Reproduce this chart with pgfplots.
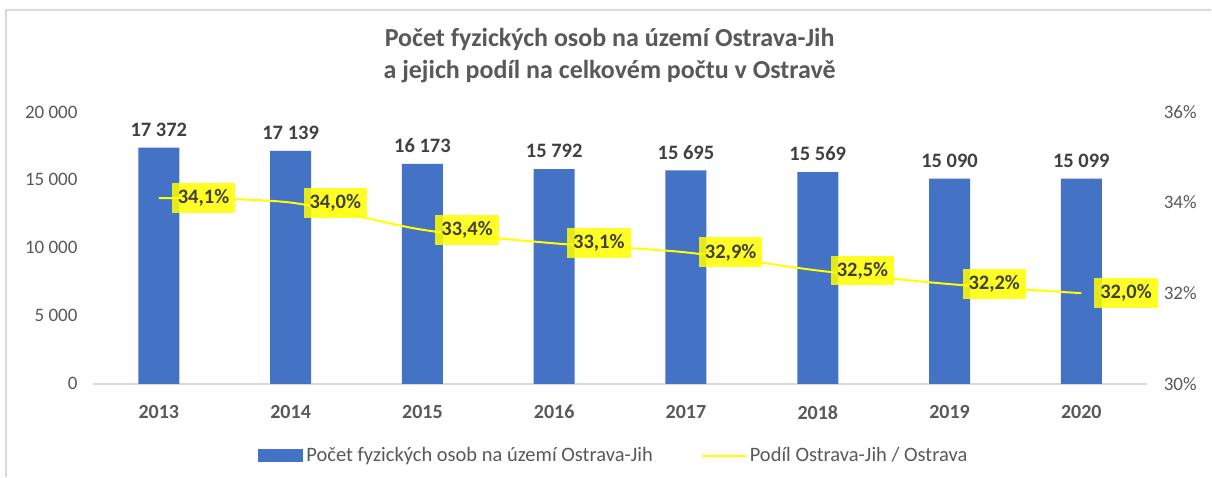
\documentclass[border=0pt]{standalone}
\usepackage{pgfplots}
\pgfplotsset{compat=1.18}
\usepackage{fontspec}
\setmainfont{Carlito}
\definecolor{barblue}{HTML}{4472C4}
\definecolor{txtgray}{HTML}{595959}
\definecolor{lblgray}{HTML}{404040}
\definecolor{axgray}{HTML}{D9D9D9}
\definecolor{lineyel}{HTML}{FFFF00}
\begin{document}
\begin{tikzpicture}[x=1pt,y=1pt]
\fill[white] (0,0) rectangle (1212,477);
\draw[axgray, line width=1.5pt] (6,0) -- (6,467) -- (1212,467);
\node[font=\fontsize{26}{32}\selectfont\bfseries, text=txtgray, align=center] at (610,421)
  {Počet fyzických osob na území Ostrava-Jih\\a jejich podíl na celkovém počtu v Ostravě};

\begin{axis}[
  at={(93pt,93pt)}, anchor=south west, scale only axis,
  width=1055pt, height=272pt,
  xmin=-0.5, xmax=7.5, ymin=0, ymax=20000,
  axis x line*=bottom, axis y line*=left,
  x axis line style={axgray, line width=1.5pt, -},
  y axis line style={draw=none},
  major tick length=0, tick style={draw=none},
  scaled y ticks=false,
  xtick={0,...,7},
  xticklabels={2013,2014,2015,2016,2017,2018,2019,2020},
  xticklabel style={font=\fontsize{20}{24}\selectfont\bfseries, text=txtgray, yshift=-18pt},
  ytick={0,5000,10000,15000,20000},
  yticklabel={\pgfmathprintnumber[1000 sep={\ },assume math mode=true]{\tick}},
  yticklabel style={font=\fontsize{19}{23}\selectfont, text=txtgray, xshift=-12pt},
  clip=false,
]
\addplot[ybar, bar width=41pt, fill=barblue, draw=none,
  nodes near coords={\pgfmathprintnumber[fixed,precision=0,1000 sep={\ },assume math mode=true]{\pgfplotspointmeta}},
  every node near coord/.append style={font=\fontsize{20.5}{24}\selectfont\bfseries, text=lblgray, yshift=7.5pt}]
  coordinates {(0,17372) (1,17139) (2,16173) (3,15792) (4,15695) (5,15569) (6,15090) (7,15099)};
\end{axis}

\begin{axis}[
  at={(93pt,93pt)}, anchor=south west, scale only axis,
  width=1055pt, height=272pt,
  xmin=-0.5, xmax=7.5, ymin=30, ymax=36,
  axis y line*=right, axis x line=none,
  y axis line style={draw=none},
  major tick length=0, tick style={draw=none},
  ytick={30,32,34,36},
  yticklabel={\pgfmathprintnumber[assume math mode=true]{\tick}\%},
  yticklabel style={font=\fontsize{19}{23}\selectfont, text=txtgray, xshift=13pt},
  clip=false,
  legend columns=2,
  legend style={at={(0.494,-0.264)}, anchor=center, draw=none, fill=none,
    font=\fontsize{20.5}{24}\selectfont, text=txtgray,
    /tikz/every even column/.append style={column sep=46pt},
    /tikz/every odd column/.append style={column sep=0pt}},
]
\addlegendimage{legend image code/.code={\fill[barblue] (0pt,-6pt) rectangle (44pt,6pt); \path[draw=none,fill=none] (0pt,0pt) rectangle (46pt,0pt);}}
\addlegendentry{Počet fyzických osob na území Ostrava-Jih}
\addplot[lineyel, line width=2pt, smooth, no markers,
  legend image code/.code={\draw[lineyel, line width=2pt] (0pt,0pt) -- (44pt,0pt); \path[draw=none,fill=none] (0pt,0pt) rectangle (46pt,0pt);},
  nodes near coords={\pgfmathprintnumber[fixed,fixed zerofill,precision=1,use comma,assume math mode=true]{\pgfplotspointmeta}\%},
  every node near coord/.append style={anchor=west, xshift=12pt, fill=lineyel, fill opacity=0.85, text opacity=1,
    inner xsep=6pt, minimum height=30pt, font=\fontsize{20.5}{24}\selectfont\bfseries, text=lblgray}]
  coordinates {(0,34.1) (1,34.0) (2,33.4) (3,33.1) (4,32.9) (5,32.5) (6,32.2) (7,32.0)};
\addlegendentry{Podíl Ostrava-Jih / Ostrava}
\end{axis}
\end{tikzpicture}
\end{document}
